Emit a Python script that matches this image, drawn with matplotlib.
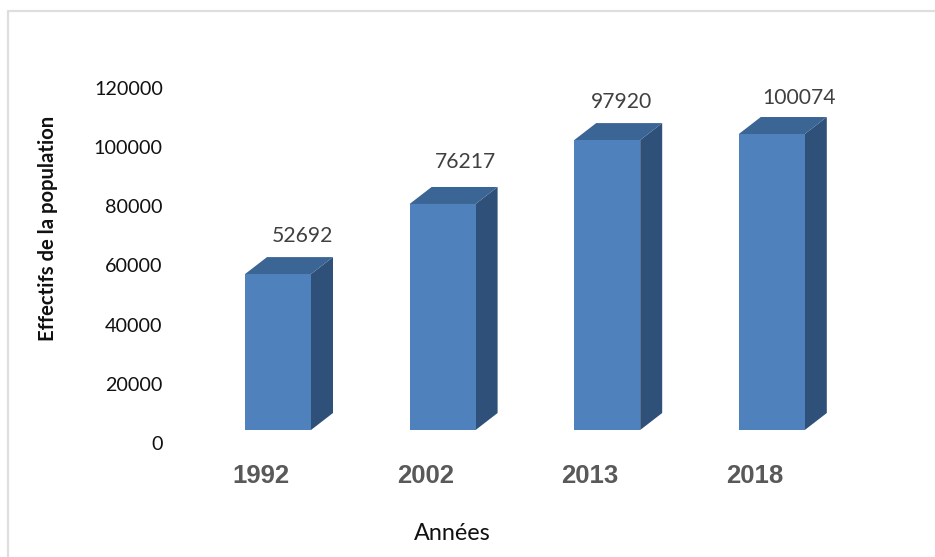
import matplotlib
matplotlib.use("Agg")
import matplotlib.pyplot as plt
from matplotlib.lines import Line2D
from matplotlib.patches import Polygon
from matplotlib.transforms import Affine2D

years = ["1992", "2002", "2013", "2018"]
population = [52692, 76217, 97920, 100074]
bar_heights = [52700, 76400, 98000, 100050]  # drawn height differs a bit from the printed label
y_ticks = [0, 20000, 40000, 60000, 80000, 100000, 120000]

W, H = 935, 557
fig = plt.figure(figsize=(W / 100, H / 100), dpi=100)
ax = fig.add_axes([178.7 / W, (H - 443) / H, 658.4 / W, 355 / H])
ax.set_xlim(-0.5, 3.5)
ax.set_ylim(0, 120000)
ax.patch.set_alpha(0)
for s in ax.spines.values():
    s.set_visible(False)

# frame of the sheet
fig.add_artist(Line2D([7.5 / W, 7.5 / W, 1], [0, (H - 10.5) / H, (H - 10.5) / H],
                      color="#dedede", lw=1.6, transform=fig.transFigure))

ax.set_xticks(range(len(years)), years)
ax.set_yticks(y_ticks)
ax.tick_params(length=0)
ax.tick_params(axis="y", pad=11.5, labelsize=14.2, labelcolor="#111111")
for t in ax.get_yticklabels():
    t.set_family("Lato")
ax.tick_params(axis="x", pad=15, labelsize=18.5, labelcolor="#595959")
for t in ax.get_xticklabels():
    t.set_family("Liberation Sans")
    t.set_fontweight("bold")

# px to data units
ux = 4 / 658.4
uy = 120000 / 355
shift = ax.transData + Affine2D().translate(17, 13)
bar_w = 66 * ux
dx = 22 * ux
dy = 17 * uy

for i, v in enumerate(bar_heights):
    x0 = i - bar_w / 2
    x1 = i + bar_w / 2
    ax.add_patch(Polygon([(x1, 0), (x1 + dx, dy), (x1 + dx, v + dy), (x1, v)],
                         fc="#2f5078", ec="none", transform=shift, clip_on=False))
    ax.add_patch(Polygon([(x0, v), (x0 + dx, v + dy), (x1 + dx, v + dy), (x1, v)],
                         fc="#3b6595", ec="none", transform=shift, clip_on=False))
    ax.add_patch(Polygon([(x0, 0), (x1, 0), (x1, v), (x0, v)],
                         fc="#4f81bd", ec="none", transform=shift, clip_on=False))

label_offsets = [(24, 38), (23, 42), (14, 38), (27, 36)]
for i, p in enumerate(population):
    ax.annotate(str(p), xy=(i, bar_heights[i]), xycoords=shift,
                xytext=(label_offsets[i][0] * 0.72, label_offsets[i][1] * 0.72),
                textcoords="offset points", ha="center", va="center",
                fontsize=15.2, color="#404040", family="Lato")

fig.text(452 / W, (H - 533) / H, "Années", ha="center", va="center",
         fontsize=16.8, family="Lato", color="#111111")
fig.text(48 / W, (H - 228) / H, "Effectifs de la population", rotation=90,
         ha="center", va="center", fontsize=14.6, family="Lato",
         fontweight="bold", color="#111111")

fig.savefig("out.png", dpi=100)
